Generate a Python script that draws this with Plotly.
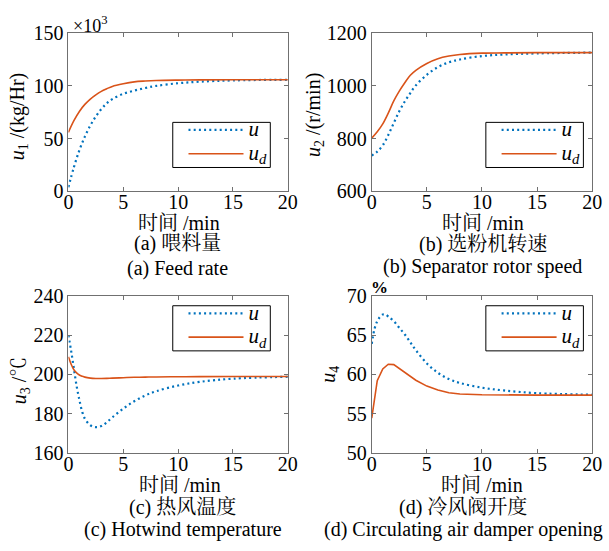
import plotly.graph_objects as go

# ---------------- data ----------------
t_a = [0, 0.5, 1, 1.5, 2, 2.5, 3, 3.5, 4, 5, 6, 7, 8, 10, 12, 15, 20]
u_a = [4, 23, 39, 52, 62.5, 71, 78, 83.5, 87.5, 92.5, 95.5, 98, 100, 102.5, 104, 105.2, 105.8]
ud_a = [56, 67, 75.8, 82.5, 87.5, 91.5, 94.8, 97.3, 99.5, 102, 103.8, 104.6, 105.1, 105.5, 105.7, 105.8, 105.8]

t_b = [0, 0.5, 1, 1.5, 2, 2.5, 3, 3.5, 4, 5, 6, 7, 8, 10, 12, 15, 20]
u_b = [736, 751, 775, 814, 859, 904, 941, 973, 1002, 1042, 1071, 1089, 1100, 1113, 1119, 1123, 1126]
ud_b = [802, 826, 856, 897, 943, 980, 1012, 1040, 1059, 1085, 1103, 1113, 1119, 1124, 1125, 1126, 1126]

t_c = [0, 0.25, 0.5, 0.75, 1, 1.25, 1.5, 2, 2.5, 3, 3.5, 4, 5, 6, 7, 8, 10, 12, 15, 20]
u_c = [220, 212, 203, 194, 187, 181, 177.4, 174, 173, 173.6, 175.5, 178, 182.5, 186.3, 189.2, 191.4, 194.3, 196.2, 197.8, 198.8]
ud_c = [209, 205.2, 202.4, 200.8, 199.7, 199.1, 198.6, 198.1, 197.9, 197.9, 197.95, 198.1, 198.3, 198.5, 198.6, 198.7, 198.8, 198.85, 198.9, 198.9]

t_d = [0, 0.25, 0.5, 0.75, 1, 1.25, 1.5, 2, 2.5, 3, 3.5, 4, 5, 6, 7, 8, 10, 12, 15, 20]
u_d = [63.9, 65.8, 66.8, 67.35, 67.65, 67.65, 67.4, 66.8, 65.95, 65.1, 64.1, 63.1, 61.4, 60.2, 59.4, 58.9, 58.3, 57.95, 57.6, 57.4]
t_d2 = [0, 0.5, 1, 1.5, 2, 2.5, 3, 3.5, 4, 5, 6, 7, 8, 10, 12, 15, 20]
ud_d = [54.4, 59.2, 60.7, 61.3, 61.25, 60.75, 60.2, 59.7, 59.25, 58.5, 58.0, 57.65, 57.5, 57.4, 57.35, 57.35, 57.35]

x_ticks = [0, 5, 10, 15, 20]
y_ranges = [[0, 150], [600, 1200], [160, 240], [50, 70]]
y_ticks = [[0, 50, 100, 150], [600, 800, 1000, 1200], [160, 180, 200, 220, 240], [50, 55, 60, 65, 70]]

ylabels = ["<i>u</i><sub>1</sub> /(kg/Hr)", "<i>u</i><sub>2</sub> /(r/min)",
           "<i>u</i><sub>3</sub> /℃", "<i>u</i><sub>4</sub>"]
captions_cn = ["(a) 喂料量", "(b) 选粉机转速", "(c) 热风温度", "(d) 冷风阀开度"]
captions_en = ["(a) Feed rate", "(b) Separator rotor speed", "(c) Hotwind temperature",
               "(d) Circulating air damper opening"]
xlabel = "时间 /min"
legend_names = ["<span style='font-size:21px'><i>u</i></span>",
                "<span style='font-size:21px'><i>u</i><sub><i>d</i></sub></span>"]

# ---------------- layout ----------------
W, H = 609, 551
BLUE = "#0072BD"
ORANGE = "#D95319"
FONT = "Liberation Serif, Noto Serif CJK SC"
AXC = "#707070"

def px_x(v):
    return v / W

def px_y(v):
    return 1 - v / H

cols = [(65, 290), (376, 602)]
rows = [(23, 188), (297, 460)]
panels = [(0, 0), (0, 1), (1, 0), (1, 1)]
# legend frames (left, top, right, bottom) in pixels
legend_boxes = [(172, 116, 272, 163), (493, 116, 593, 163),
                (172, 307, 272, 354), (493, 307, 593, 354)]

fig = go.Figure()
series = [(t_a, u_a, t_a, ud_a, "spline"), (t_b, u_b, t_b, ud_b, "spline"),
          (t_c, u_c, t_c, ud_c, "spline"), (t_d, u_d, t_d2, ud_d, "linear")]

shapes = []
for i, (r, c) in enumerate(panels):
    n = i + 1
    xs = "x" if n == 1 else f"x{n}"
    ys = "y" if n == 1 else f"y{n}"
    lg = "legend" if n == 1 else f"legend{n}"
    tu, uu, tdd, udd, shp = series[i]
    fig.add_trace(go.Scatter(x=tu, y=uu, mode="lines", name=legend_names[0],
                             line=dict(color=BLUE, width=2.2, dash="2px,3.2px", shape="spline"),
                             xaxis=xs, yaxis=ys, legend=lg, showlegend=True))
    fig.add_trace(go.Scatter(x=tdd, y=udd, mode="lines", name=legend_names[1],
                             line=dict(color=ORANGE, width=1.6, shape=shp),
                             xaxis=xs, yaxis=ys, legend=lg, showlegend=True))
    x0, x1 = cols[c]
    y0, y1 = rows[r]
    ax = dict(showline=True, linecolor=AXC, linewidth=1, mirror="ticks", ticks="inside",
              ticklen=4, tickcolor=AXC, showgrid=False, zeroline=False,
              tickfont=dict(family=FONT, size=20, color="black"))
    xa = dict(ax, domain=[px_x(x0), px_x(x1)], range=[0, 20], tickvals=x_ticks,
              anchor=ys, ticklabelstandoff=-7)
    ya = dict(ax, domain=[px_y(y1), px_y(y0)], range=y_ranges[i], tickvals=y_ticks[i],
              anchor=xs)
    fig.layout["xaxis" if n == 1 else f"xaxis{n}"] = xa
    fig.layout["yaxis" if n == 1 else f"yaxis{n}"] = ya
    bl, bt, br, bb = legend_boxes[i]
    shapes.append(dict(type="rect", xref="paper", yref="paper", layer="above",
                       x0=px_x(bl), x1=px_x(br), y0=px_y(bb), y1=px_y(bt),
                       line=dict(color="black", width=1), fillcolor="white"))
    fig.layout[lg] = dict(x=px_x(bl + 11), y=px_y((bt + bb) / 2 - 3), xanchor="left", yanchor="middle",
                          borderwidth=0, bgcolor="rgba(0,0,0,0)",
                          font=dict(family=FONT, size=16, color="black"),
                          itemwidth=55, tracegroupgap=0)

ann = []
# y-axis titles
ytitle_pos = [(14, 110), (317, 108), (16, 385), (333, 378)]
for i, (xx, yy) in enumerate(ytitle_pos):
    ann.append(dict(x=px_x(xx), y=px_y(yy), text=ylabels[i], textangle=-90, showarrow=False,
                    xref="paper", yref="paper", xanchor="center", yanchor="middle",
                    font=dict(family=FONT, size=20, color="black")))
# x-axis titles
xtitle_pos = [(178, 221), (490, 221), (179, 494), (489, 494)]
for (xx, yy) in xtitle_pos:
    ann.append(dict(x=px_x(xx), y=px_y(yy), text=xlabel, showarrow=False,
                    xref="paper", yref="paper", xanchor="center", yanchor="middle",
                    font=dict(family=FONT, size=20, color="black")))
# captions
cap1_pos = [(177, 242), (490, 243), (182, 517), (470, 517)]
cap2_pos = [(177, 268), (490, 266), (183, 540), (470, 540)]
for i in range(4):
    ann.append(dict(x=px_x(cap1_pos[i][0]), y=px_y(cap1_pos[i][1]), text=captions_cn[i],
                    showarrow=False, xref="paper", yref="paper", xanchor="center", yanchor="middle",
                    font=dict(family=FONT, size=20, color="black")))
    ann.append(dict(x=px_x(cap2_pos[i][0]), y=px_y(cap2_pos[i][1]), text=captions_en[i],
                    showarrow=False, xref="paper", yref="paper", xanchor="center", yanchor="middle",
                    font=dict(family=FONT, size=20, color="black")))
# multiplier and percent marks
ann.append(dict(x=px_x(68), y=px_y(14), text="×10<sup>3</sup>", showarrow=False,
                xref="paper", yref="paper", xanchor="left", yanchor="middle",
                font=dict(family=FONT, size=18, color="black")))
ann.append(dict(x=px_x(384), y=px_y(288), text="<b>%</b>", showarrow=False,
                xref="paper", yref="paper", xanchor="center", yanchor="middle",
                font=dict(family=FONT, size=17, color="black")))

fig.update_layout(width=W, height=H, margin=dict(l=0, r=0, t=0, b=0),
                  paper_bgcolor="white", plot_bgcolor="white", annotations=ann, shapes=shapes)

fig.write_html("out.html")
